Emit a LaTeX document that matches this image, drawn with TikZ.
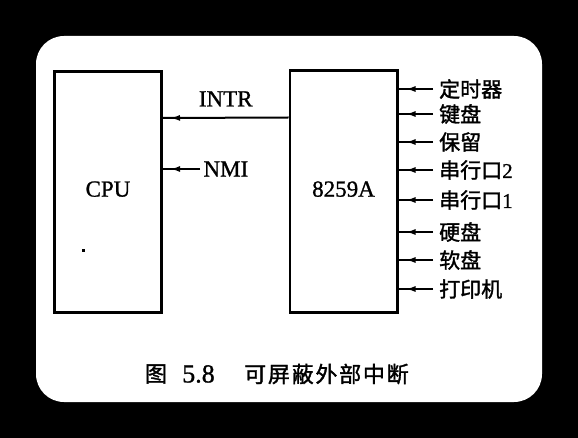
\documentclass[tikz,border=0pt]{standalone}
\usepackage{fontspec}
\usepackage{tikz}
\usetikzlibrary{arrows.meta,decorations.markings}
\setmainfont{Liberation Serif}[FakeBold=1]
\newfontfamily\cjk[FakeBold=1.5]{Noto Sans CJK SC}
\newfontfamily\cjkcap[LetterSpace=8,FakeBold=1.5]{Noto Sans CJK SC}

\begin{document}
\begin{tikzpicture}[x=1pt,y=-1pt,
    chip/.style={draw,line width=2.6pt,minimum width=107.4pt,minimum height=241.4pt,inner sep=0pt,font=\fontsize{23}{27}\selectfont},
    sig/.style={line width=2pt,postaction={decorate},
        decoration={markings,mark=at position -7pt with {\arrow{Latex[length=10pt,width=6pt]}}}},
    src/.style={anchor=west,inner xsep=6pt,font=\cjk\fontsize{21}{24}\selectfont}]
    \fill[black] (0,0) rectangle (578,438);
    \fill[white,rounded corners=28pt] (36,36) rectangle (542,402);

    \node[chip] (cpu) at (108,192) {\raisebox{6pt}{CPU}};
    \node[chip] (irq) at (343.5,191.5) {\raisebox{5pt}{8259A}};
    \fill (82,249) rectangle (85,252);

    \draw[sig] ([yshift=74pt]irq.west) -- node[above=7pt,font=\fontsize{23}{27}\selectfont] (intr) {INTR} ([yshift=74pt]cpu.east);
    \node[anchor=west,font=\fontsize{23}{27}\selectfont] (nmi) at ([xshift=37pt,yshift=23pt]cpu.east) {NMI};
    \draw[sig] (nmi.west) -- (nmi.west -| cpu.east);

    \foreach \y/\t [count=\i] in {89/定时器,114/键盘,142/保留,170/{串行口{\rmfamily 2}},
                                  200/{串行口{\rmfamily 1}},232/硬盘,260/软盘,289/打印机}
    {
        \node[src] (in\i) at (433,\y) {\t};
        \draw[sig] (in\i.west) -- (in\i.west -| irq.east);
    }

    \node[font=\cjk\fontsize{22}{26}\selectfont] (figtag) at (156,374) {图};
    \node[font=\fontsize{26}{30}\selectfont] (fignum) at (198.5,374) {5.8};
    \node[anchor=west,inner sep=0pt,font=\cjkcap\fontsize{22}{26}\selectfont] (figtitle) at (244,374) {可屏蔽外部中断};
\end{tikzpicture}
\end{document}
